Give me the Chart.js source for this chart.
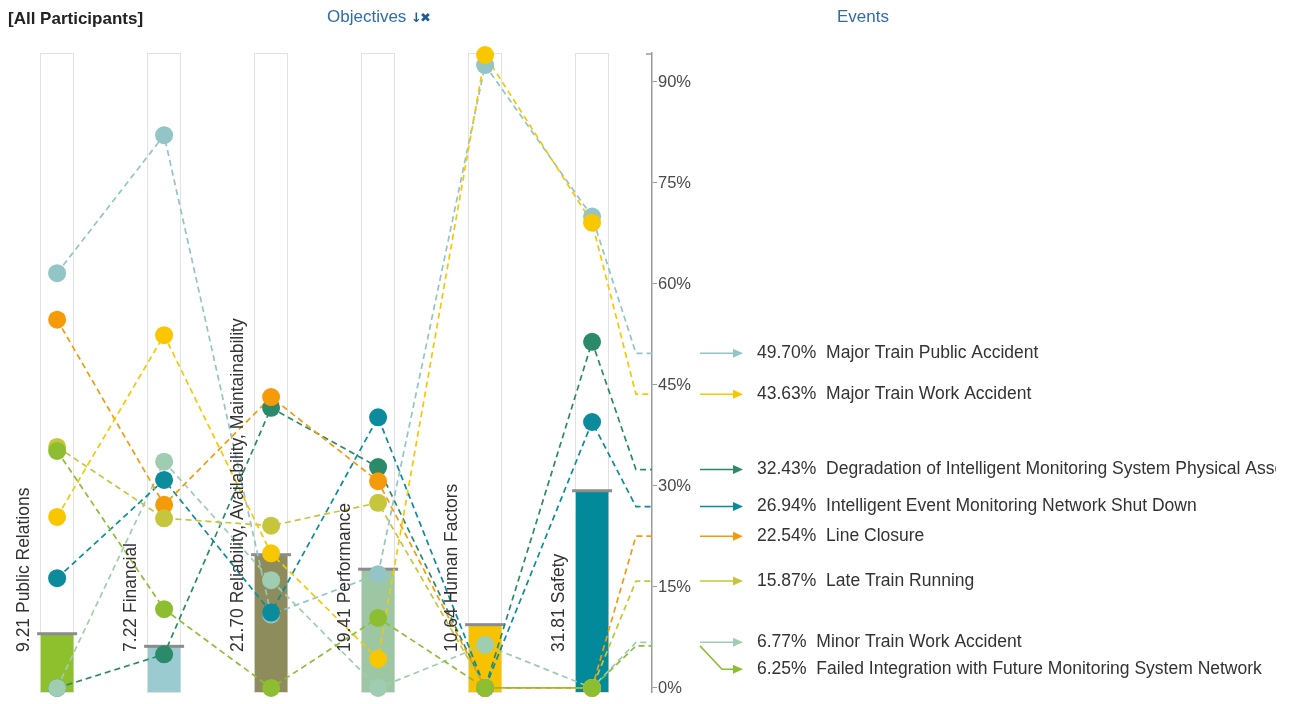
<!DOCTYPE html>
<html>
<head>
<meta charset="utf-8">
<style>
  body { margin: 0; background: #fff; font-family: "Liberation Sans", Arial, sans-serif; }
  #wrap { position: relative; width: 1292px; height: 704px; overflow: hidden; background: #fff; }
  #chart { position: absolute; left: 0; top: 0; }
  .title { position: absolute; top: 7px; font-size: 17px; line-height: 19px; white-space: nowrap; }
  .blue { color: #2e6cab; }
  .icon { font-family: "DejaVu Sans", sans-serif; font-size: 13px; font-weight: bold; color: #1f5a98; letter-spacing: -2px; }
</style>
</head>
<body>
<div id="wrap">
  <canvas id="chart" width="1292" height="704"></canvas>
  <div class="title" style="left:8px; top:9px; font-weight:bold; color:#222;">[All Participants]</div>
  <div class="title blue" style="left:327px;">Objectives <span class="icon">↓✖</span></div>
  <div class="title blue" style="left:837px;">Events</div>
</div>

<script src="https://cdn.jsdelivr.net/npm/chart.js"></script>
<script>
  // objectives (columns) and their weights
  const objectives = ['Public Relations', 'Financial', 'Reliability, Availability, Maintainability', 'Performance', 'Human Factors', 'Safety'];
  const weights = [9.21, 7.22, 21.70, 19.41, 10.64, 31.81];
  const barColors = ['#8ebf2c', '#99cbd0', '#8e8c5c', '#9dc7a3', '#f7c300', '#028a9b'];

  const yTicks = [0, 15, 30, 45, 60, 75, 90];

  // score of each event per objective (%)
  const majorPublic       = [61.6, 82.1, 10.9, 16.9, 92.5, 70.0];
  const majorWork         = [25.4, 52.4, 20.0, 4.3, 94.0, 69.1];
  const degradation       = [0, 5.0, 41.6, 32.8, 0, 51.4];
  const networkShutdown   = [16.3, 30.9, 11.2, 40.2, 0, 39.5];
  const lineClosure       = [54.7, 27.2, 43.2, 30.7, 0, 0];
  const lateTrain         = [35.8, 25.2, 24.1, 27.5, 0, 0];
  const minorWork         = [0, 33.6, 16.0, 0, 6.4, 0];
  const failedIntegration = [35.2, 11.7, 0, 10.4, 0, 0];

  const eventNames = [
    'Major Train Public Accident',
    'Major Train Work Accident',
    'Degradation of Intelligent Monitoring System Physical Assets',
    'Intelligent Event Monitoring Network Shut Down',
    'Line Closure',
    'Late Train Running',
    'Minor Train Work Accident',
    'Failed Integration with Future Monitoring System Network'
  ];
  const eventTotals = [49.70, 43.63, 32.43, 26.94, 22.54, 15.87, 6.77, 6.25];
  const eventColors = ['#93c4c6', '#f9c700', '#2b8a69', '#0b8b9b', '#f59b0a', '#c6c63c', '#9fcdb1', '#8dbe31'];
  const eventScores = [majorPublic, majorWork, degradation, networkShutdown, lineClosure, lateTrain, minorWork, failedIntegration];

  // which event's dots sit on top of which (bottom -> top)
  const stacking = [2, 0, 6, 3, 4, 5, 1, 7];

  const FONT = '"Liberation Sans", Arial, sans-serif';
  const ELBOW = 5.41, END = 5.56;   // where the lines bend towards the axis

  Chart.defaults.font.family = FONT;

  const datasets = [];
  datasets.push({
    type: 'bar',
    yAxisID: 'yBar',
    data: weights.map((w, i) => ({ x: i, y: w })),
    backgroundColor: barColors,
    barThickness: 32,
    order: 60
  });
  stacking.forEach((e, k) => {
    const pts = eventScores[e].map((v, i) => ({ x: i, y: v }));
    pts.push({ x: ELBOW, y: eventTotals[e] }, { x: END, y: eventTotals[e] });
    datasets.push({
      type: 'line',
      yAxisID: 'y',
      data: pts,
      borderColor: eventColors[e],
      borderWidth: 1.7,
      borderDash: [6, 4],
      pointRadius: 0,
      fill: false,
      tension: 0,
      clip: false,
      order: 50 - k
    });
  });
  stacking.forEach((e, k) => {
    datasets.push({
      type: 'line',
      yAxisID: 'y',
      showLine: false,
      data: eventScores[e].map((v, i) => ({ x: i, y: v })),
      pointRadius: 9,
      pointBorderWidth: 0,
      pointBackgroundColor: eventColors[e],
      clip: false,
      order: 20 - k
    });
  });

  const overlay = {
    id: 'overlay',
    beforeDatasetsDraw(chart) {
      const { ctx, chartArea } = chart;
      const xs = chart.scales.x;
      ctx.save();
      ctx.fillStyle = '#fff';
      ctx.strokeStyle = '#e2e2e2';
      ctx.lineWidth = 1;
      objectives.forEach((o, i) => {
        const px = Math.round(xs.getPixelForValue(i));
        ctx.fillRect(px - 16, chartArea.top, 32, chartArea.bottom - chartArea.top);
        ctx.strokeRect(px - 16.5, chartArea.top + 0.5, 33, chartArea.bottom - chartArea.top);
      });
      // small hook at the top of the value axis
      ctx.strokeStyle = '#9a9a9a';
      ctx.lineWidth = 1.5;
      ctx.beginPath();
      ctx.moveTo(chartArea.right - 6, chartArea.top + 1);
      ctx.lineTo(chartArea.right, chartArea.top + 1);
      ctx.stroke();
      ctx.restore();
    },
    afterDatasetDraw(chart, args) {
      if (args.index !== 0) return;
      const ctx = chart.ctx;
      ctx.save();
      ctx.fillStyle = '#8c8c8c';
      args.meta.data.forEach(bar => {
        const { x, y, width } = bar.getProps(['x', 'y', 'width'], true);
        ctx.fillRect(x - width / 2 - 4, y - 1.5, width + 8, 3);
      });
      ctx.restore();
    },
    afterDatasetsDraw(chart) {
      const ctx = chart.ctx;
      const xs = chart.scales.x, ys = chart.scales.y;
      const y0 = ys.getPixelForValue(0);
      ctx.save();
      ctx.fillStyle = '#333';
      ctx.font = '17.5px ' + FONT;
      ctx.textAlign = 'left';
      ctx.textBaseline = 'middle';
      objectives.forEach((o, i) => {
        ctx.save();
        ctx.translate(xs.getPixelForValue(i) - 33, y0 - 36);
        ctx.rotate(-Math.PI / 2);
        ctx.fillText(weights[i].toFixed(2) + ' ' + o, 0, 0);
        ctx.restore();
      });
      ctx.restore();
    },
    afterDraw(chart) {
      const { ctx, chartArea } = chart;
      const ys = chart.scales.y;
      const x0 = chartArea.right + 48;
      ctx.save();
      ctx.beginPath();
      ctx.rect(0, 0, 1276, 704);
      ctx.clip();
      ctx.font = '17.5px ' + FONT;
      ctx.textBaseline = 'middle';
      let prev = -Infinity;
      eventNames.forEach((name, e) => {
        const yv = ys.getPixelForValue(eventTotals[e]);
        const ly = Math.max(yv, prev + 27);
        prev = ly;
        ctx.strokeStyle = eventColors[e];
        ctx.fillStyle = eventColors[e];
        ctx.lineWidth = 1.5;
        ctx.beginPath();
        ctx.moveTo(x0, yv);
        if (ly !== yv) ctx.lineTo(x0 + 22, ly);
        ctx.lineTo(x0 + 34, ly);
        ctx.stroke();
        ctx.beginPath();
        ctx.moveTo(x0 + 43, ly);
        ctx.lineTo(x0 + 33, ly - 4.5);
        ctx.lineTo(x0 + 33, ly + 4.5);
        ctx.closePath();
        ctx.fill();
        ctx.fillStyle = '#333';
        ctx.fillText(eventTotals[e].toFixed(2) + '%  ' + name, x0 + 57, ly);
      });
      ctx.restore();
    }
  };

  new Chart(document.getElementById('chart').getContext('2d'), {
    type: 'line',
    data: { datasets },
    options: {
      responsive: false,
      animation: false,
      events: [],
      layout: { padding: { left: 40, top: 53, right: 590, bottom: 12 } },
      plugins: { legend: { display: false }, tooltip: { enabled: false } },
      scales: {
        x: { type: 'linear', min: -0.16, max: 5.56, offset: false, grid: { offset: false }, display: false },
        yBar: { type: 'linear', min: 0, max: 101, display: false },
        y: {
          type: 'linear',
          position: 'right',
          min: -0.6,
          max: 94.3,
          afterBuildTicks: s => { s.ticks = yTicks.map(v => ({ value: v })); },
          afterFit: s => { s.width = 50; },
          grid: { drawOnChartArea: false, drawTicks: true, tickLength: 5, color: '#9a9a9a' },
          border: { color: '#9a9a9a', width: 1.5 },
          ticks: { padding: 1, color: '#4a4a4a', font: { size: 16.5 }, callback: v => v + '%' }
        }
      }
    },
    plugins: [overlay]
  });
</script>
</body>
</html>
